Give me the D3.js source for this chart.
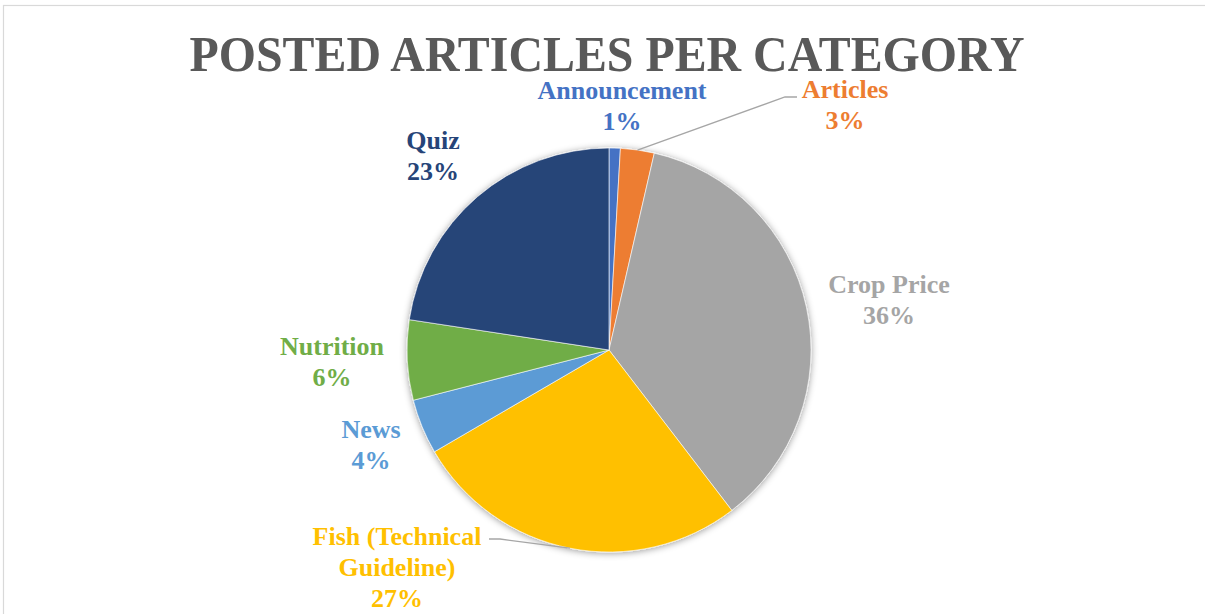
<!DOCTYPE html>
<html>
<head>
<meta charset="utf-8">
<script src="https://cdn.jsdelivr.net/npm/d3@7"></script>
<style>
  body { margin: 0; background: #fff; }
  svg { display: block; }
</style>
</head>
<body>
<svg width="1205" height="614"></svg>
<script>
// data (share of posts, %)
const categories = ['Announcement', 'Articles', 'Crop Price', 'Fish (Technical Guideline)', 'News', 'Nutrition', 'Quiz'];
const shares = [0.9, 2.7, 36.0, 27.0, 4.4, 6.4, 22.6];
const colors = ['#4472C4', '#ED7D31', '#A5A5A5', '#FFC000', '#5B9BD5', '#70AD47', '#264478'];

// label lines (Excel wraps the long one)
const labelLines = [['Announcement'], ['Articles'], ['Crop Price'], ['Fish (Technical', 'Guideline)'], ['News'], ['Nutrition'], ['Quiz']];

// where each label block sits (centre x, first line y)
const labelPos = [[622, 99], [845, 98], [889, 293], [397, 545], [371, 438], [332, 355], [433, 149]];

function render() {
    const svg = d3.select('svg');
    const cx = 609, cy = 350, radius = 202;
    const lineH = 31;

    // chart frame
    svg.append('rect')
        .attr('x', 3.5).attr('y', 5.5)
        .attr('width', 1220).attr('height', 640)
        .attr('fill', 'none')
        .attr('stroke', '#d9d9d9')
        .attr('stroke-width', 1.2);

    const defs = svg.append('defs');
    const f = defs.append('filter').attr('id', 'shadow')
        .attr('x', '-20%').attr('y', '-20%').attr('width', '140%').attr('height', '140%');
    f.append('feDropShadow')
        .attr('dx', 0).attr('dy', 1)
        .attr('stdDeviation', 3.5)
        .attr('flood-color', '#000').attr('flood-opacity', 0.4);

    svg.append('text')
        .text('POSTED ARTICLES PER CATEGORY')
        .attr('x', 607).attr('y', 71)
        .attr('text-anchor', 'middle')
        .attr('textLength', 835)
        .attr('lengthAdjust', 'spacingAndGlyphs')
        .style('font-family', '"Liberation Serif", "Times New Roman", serif')
        .style('font-weight', 'bold')
        .style('font-size', '50px')
        .style('fill', '#595959');

    const pie = d3.pie().sort(null).value(d => d);
    const arcs = pie(shares);
    const arc = d3.arc().innerRadius(0).outerRadius(radius);

    const g = svg.append('g').attr('transform', `translate(${cx},${cy})`);
    const slices = g.append('g').attr('filter', 'url(#shadow)');
    slices.selectAll('path')
        .data(arcs)
        .enter()
        .append('path')
        .attr('d', arc)
        .attr('fill', (d, i) => colors[i])
        .attr('stroke', '#fff')
        .attr('stroke-width', 0.6);

    const total = d3.sum(shares);
    const fmt = d3.format('.0%');

    // leader lines for the two labels sitting away from their slices
    const outer = d3.arc().innerRadius(radius).outerRadius(radius);
    const leader = d3.line();
    const pArticles = outer.centroid(arcs[1]);
    svg.append('path')
        .attr('d', leader([[cx + pArticles[0], cy + pArticles[1]], [785, 97], [797, 97]]))
        .attr('fill', 'none').attr('stroke', '#a6a6a6').attr('stroke-width', 1.3);
    const pFish = outer.centroid(arcs[3]);
    svg.append('path')
        .attr('d', leader([[cx + pFish[0], cy + pFish[1]], [500, 539], [489, 539]]))
        .attr('fill', 'none').attr('stroke', '#a6a6a6').attr('stroke-width', 1.3);

    const labels = svg.selectAll('text.lbl')
        .data(arcs)
        .enter()
        .append('text')
        .attr('class', 'lbl')
        .attr('text-anchor', 'middle')
        .style('font-family', '"Liberation Serif", "Times New Roman", serif')
        .style('font-weight', 'bold')
        .style('font-size', '26px')
        .style('fill', (d, i) => colors[i]);

    labels.each(function (d, i) {
        const t = d3.select(this);
        const lines = labelLines[i].concat([fmt(d.data / total)]);
        lines.forEach((s, k) => {
            t.append('tspan')
                .attr('x', labelPos[i][0])
                .attr('y', labelPos[i][1] + k * lineH)
                .text(s);
        });
    });
}

render();
</script>
</body>
</html>
